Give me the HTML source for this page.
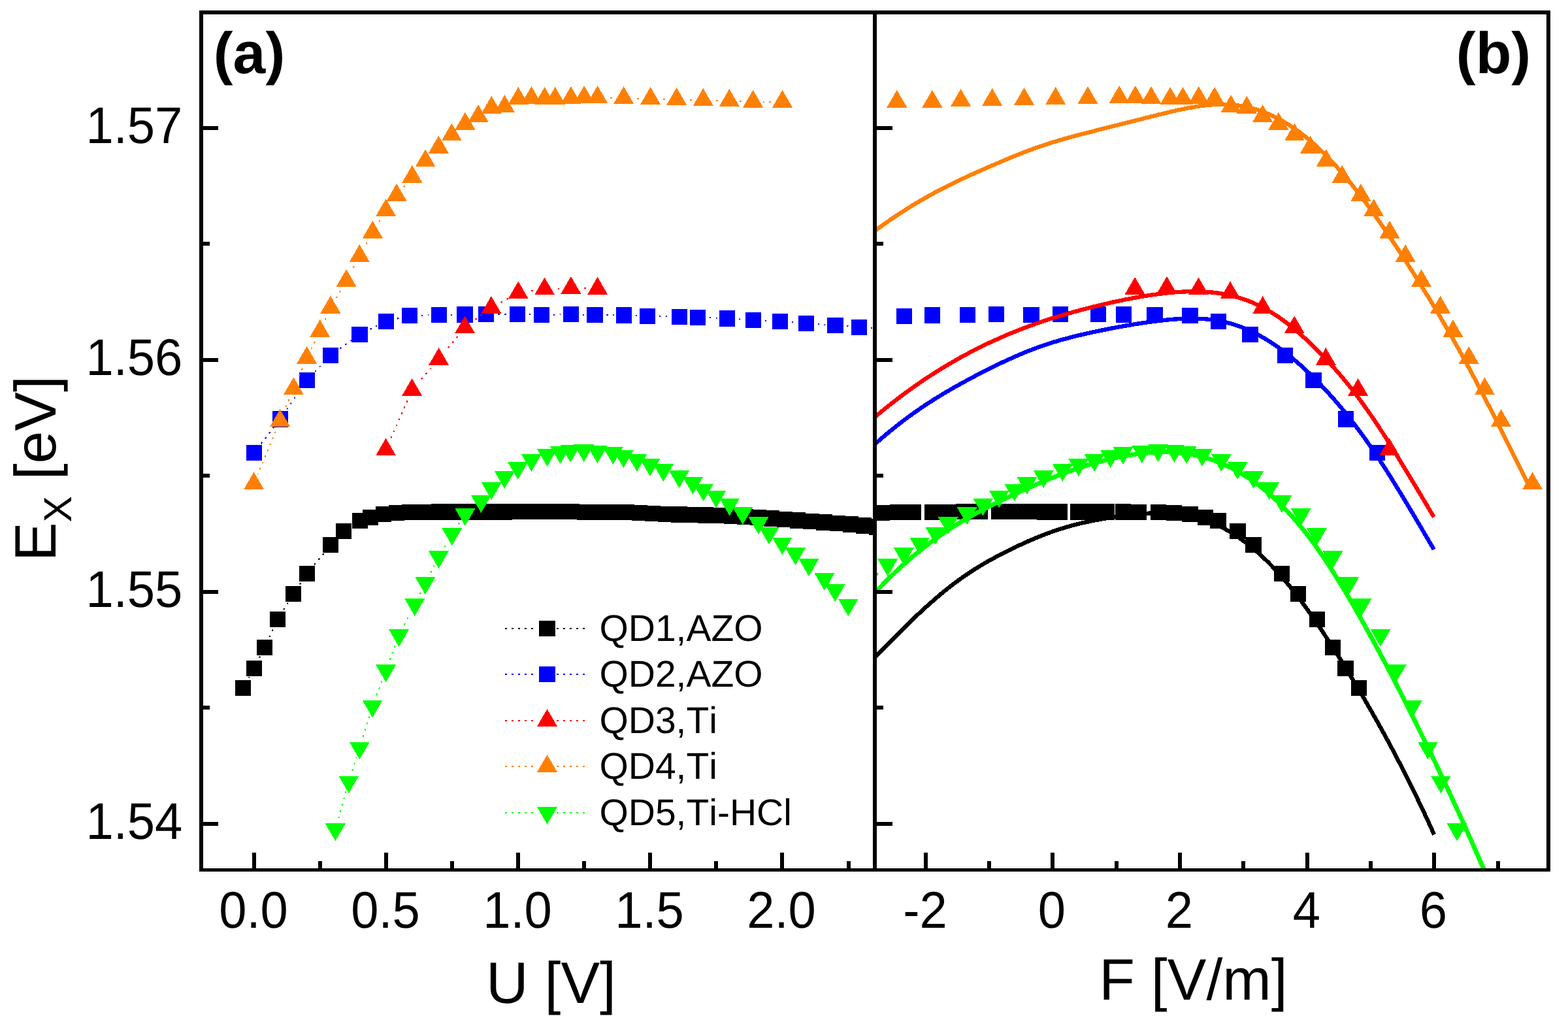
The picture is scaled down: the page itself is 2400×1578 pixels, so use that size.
<!DOCTYPE html>
<html lang="en">
<head>
<meta charset="utf-8">
<title>QD exciton energy vs bias and field</title>
<style>html,body{margin:0;padding:0;background:#fff;}svg{display:block;}</style>
</head>
<body>
<svg xmlns="http://www.w3.org/2000/svg" width="2400" height="1578" viewBox="0 0 2400 1578">
<rect width="2400" height="1578" fill="#ffffff"/>
<defs><clipPath id="cl"><rect x="311" y="22" width="1025" height="1307"/></clipPath><clipPath id="cr"><rect x="1342" y="22" width="1025" height="1307"/></clipPath></defs>
<g clip-path="url(#cl)" shape-rendering="crispEdges">
<path d="M380.6 1037.4L381.3 1036.2M396.9 1007L398.1 1004.7M412.5 974.9L413.6 972.6M416.7 965.8L417.8 963.5M434.2 933L435.6 930.8M439.5 924.5L440.8 922.3M458.9 894.4L460.4 892.3M481.2 864.4L482.9 862.4M487.6 856.7L489.2 854.7M493.9 849L495.6 847" fill="none" stroke="#000000" stroke-width="2"/>
<path d="M359.7 1040.6h24.4v24.4h-24.4zM376.7 1010.6h24.4v24.4h-24.4zM392.9 978.8h24.4v24.4h-24.4zM412.7 935.9h24.4v24.4h-24.4zM436.8 896.9h24.4v24.4h-24.4zM457.8 865.9h24.4v24.4h-24.4zM493.9 822h24.4v24.4h-24.4zM513.9 800.8h24.4v24.4h-24.4zM539 784.8h24.4v24.4h-24.4zM554.9 779.8h24.4v24.4h-24.4zM574.8 774.8h24.4v24.4h-24.4zM594.9 772.7h24.4v24.4h-24.4zM614.9 771.7h24.4v24.4h-24.4zM638.7 771.5h24.4v24.4h-24.4zM659.9 771.3h24.4v24.4h-24.4zM680.7 771.3h24.4v24.4h-24.4zM698.9 771.3h24.4v24.4h-24.4zM717.2 771.3h24.4v24.4h-24.4zM740.5 771.3h24.4v24.4h-24.4zM759.8 771.3h24.4v24.4h-24.4zM779.2 770.9h24.4v24.4h-24.4zM798.6 770.9h24.4v24.4h-24.4zM817.9 770.9h24.4v24.4h-24.4zM842.1 770.9h24.4v24.4h-24.4zM862.4 770.9h24.4v24.4h-24.4zM882.5 771.8h24.4v24.4h-24.4zM902.7 771.9h24.4v24.4h-24.4zM926.8 771.9h24.4v24.4h-24.4zM946.8 772h24.4v24.4h-24.4zM966.7 772.8h24.4v24.4h-24.4zM986.7 773.8h24.4v24.4h-24.4zM1006.9 774.7h24.4v24.4h-24.4zM1027.1 775.3h24.4v24.4h-24.4zM1047.3 775.7h24.4v24.4h-24.4zM1067.5 776.1h24.4v24.4h-24.4zM1087.7 776.9h24.4v24.4h-24.4zM1107.9 777.9h24.4v24.4h-24.4zM1128.1 778.9h24.4v24.4h-24.4zM1148.3 780h24.4v24.4h-24.4zM1168.5 781.3h24.4v24.4h-24.4zM1188.7 782.7h24.4v24.4h-24.4zM1208.9 784.1h24.4v24.4h-24.4zM1229.1 785.6h24.4v24.4h-24.4zM1249.3 787.2h24.4v24.4h-24.4zM1269.5 788.7h24.4v24.4h-24.4zM1289.7 790.4h24.4v24.4h-24.4zM1309.9 792.3h24.4v24.4h-24.4zM1330.1 794.2h24.4v24.4h-24.4zM1350.3 795.8h24.4v24.4h-24.4z" fill="#000000"/>
<path d="M399.7 679.1L401.3 677M405.8 671.2L407.4 669.1M411.9 663.3L413.5 661.2M418.1 655.3L419.5 653.5M438.9 626.7L440.4 624.6M444.6 618.5L446.1 616.3M450.3 610.3L451.8 608.1M456 602L457.4 599.9M482.1 569L483.9 567.1M489 561.7L490.7 559.8M520.3 533.5L522.4 532M528.4 527.7L530.6 526.2M536.6 521.9L538.1 520.8M566.4 504L568.8 502.8M575.4 499.5L577.1 498.7M608.1 487.6L610.6 487M644.9 482.6L647.5 482.5M654.9 482.4L656.5 482.3M689.6 481.7L692.2 481.6M761.9 480.9L764.5 480.9M771.9 480.9L774.5 480.9M809.7 481.4L812.3 481.5M846.9 481.6L849.5 481.5M856.9 481.4L858.5 481.3M891.6 481.5L894.2 481.6M928 482.2L930.6 482.2M938 482.2L939.6 482.3M972.7 483L975.3 483.1M1008.6 484.1L1011.2 484.1M1018.6 484.3L1021.2 484.3M1085.6 486.4L1088.2 486.5M1095.6 486.7L1097.5 486.8M1130.6 488.4L1133.2 488.6M1170.6 490.6L1173.2 490.7M1211.6 493.1L1214.1 493.3M1251.6 496L1254.2 496.2M1261.5 496.7L1262.9 496.8M1295.9 499.2L1298.5 499.5M1332.7 502L1335.3 502.2" fill="none" stroke="#0000ff" stroke-width="2"/>
<path d="M376.7 680.9h24.4v24.4h-24.4zM416.7 629.1h24.4v24.4h-24.4zM457.7 569.6h24.4v24.4h-24.4zM493.7 531.6h24.4v24.4h-24.4zM538.4 499.7h24.4v24.4h-24.4zM578.7 479.6h24.4v24.4h-24.4zM615 470.8h24.4v24.4h-24.4zM659.7 469.8h24.4v24.4h-24.4zM699.4 469.1h24.4v24.4h-24.4zM732 468.7h24.4v24.4h-24.4zM779.8 468.7h24.4v24.4h-24.4zM817 469.8h24.4v24.4h-24.4zM861.7 468.8h24.4v24.4h-24.4zM898.1 469.8h24.4v24.4h-24.4zM942.8 470.2h24.4v24.4h-24.4zM978.7 471.5h24.4v24.4h-24.4zM1027.5 472.5h24.4v24.4h-24.4zM1055.7 473.5h24.4v24.4h-24.4zM1100.7 475.2h24.4v24.4h-24.4zM1140.7 477.5h24.4v24.4h-24.4zM1181.7 479.6h24.4v24.4h-24.4zM1221.7 482.6h24.4v24.4h-24.4zM1266.1 485.6h24.4v24.4h-24.4zM1302.8 488.6h24.4v24.4h-24.4zM1342.8 491.3h24.4v24.4h-24.4z" fill="#0000ff"/>
<path d="M896.9 441.3L894.3 441.3M856.2 441.5L853.6 441.6M816.1 445L813.5 445.4M777.8 456.8L775.5 458.1M769 461.6L766.7 462.9M737.8 481.6L735.7 483.2M729.8 487.6L727.7 489.2M700.4 514.9L698.7 517M694 522.7L692.4 524.7M687.7 530.4L686 532.4M660 563.3L658.3 565.3M653.4 570.8L651.7 572.8M646.8 578.4L645.1 580.3M623.5 613.2L622.5 615.6M619.5 622.3L618.5 624.7M615.5 631.5L614.4 633.9M611.5 640.7L610.4 643M607.5 649.8L606.4 652.2M603.5 659L602.4 661.4M599.4 668.1L598.4 670.5" fill="none" stroke="#ff0000" stroke-width="2"/>
<path d="M590.6 670.5l15.5 26.8h-31zM630.6 579.1l15.5 26.8h-31zM671.6 532.1l15.5 26.8h-31zM711.6 483.4l15.5 26.8h-31zM751.9 453.1l15.5 26.8h-31zM793.3 430.5l15.5 26.8h-31zM833.6 424.5l15.5 26.8h-31zM873.9 422.9l15.5 26.8h-31zM914.6 423.9l15.5 26.8h-31z" fill="#ff0000"/>
<path d="M1179.9 155.7L1177.3 155.7M1169.9 155.7L1168 155.7M1134.9 154.8L1132.3 154.7M1098.6 153.5L1096 153.5M1058.6 152.5L1056 152.5M1017.9 151.5L1015.3 151.5M977.9 150.5L975.3 150.5M936.9 149.5L934.3 149.5M619.5 284.2L617.8 286.2M581.5 337.2L580.1 339.5M561.8 371.2L560.6 373.4M542 407.6L540.8 409.9M521.1 445.2L519.7 447.4M515.9 453.8L514.6 456M498.7 486.8L497.6 489.2M481.9 522.9L480.7 525.2M477.5 531.8L476.4 534M462.7 564.1L461.6 566.5M458.7 573.3L457.7 575.7M442.5 611.5L441.4 613.9M438.5 620.7L437.5 623.1M421.8 660.4L420.8 662.8M418 669.6L417 672M414.1 678.9L413.1 681.3M410.3 688.1L409.3 690.5M406.4 697.3L405.4 699.7M402.6 706.6L401.6 709M398.7 715.8L397.7 718.2M394.9 725L394.5 725.9" fill="none" stroke="#ff8000" stroke-width="2"/>
<path d="M388.6 722.3l15.5 26.8h-31zM428.6 626.2l15.5 26.8h-31zM449.4 577.4l15.5 26.8h-31zM469.6 530l15.5 26.8h-31zM489.7 489.1l15.5 26.8h-31zM505.9 452.8l15.5 26.8h-31zM530.1 412.1l15.5 26.8h-31zM550.3 374.1l15.5 26.8h-31zM570.4 337.8l15.5 26.8h-31zM590.6 304.2l15.5 26.8h-31zM607.1 281l15.5 26.8h-31zM630.9 252.8l15.5 26.8h-31zM651.1 228.6l15.5 26.8h-31zM671.3 207.7l15.5 26.8h-31zM691.4 188.6l15.5 26.8h-31zM711.9 171.8l15.5 26.8h-31zM732.1 160l15.5 26.8h-31zM752.3 146.9l15.5 26.8h-31zM772.4 145.2l15.5 26.8h-31zM793.3 133.1l15.5 26.8h-31zM813.4 132.1l15.5 26.8h-31zM833.6 133.1l15.5 26.8h-31zM849.7 133.1l15.5 26.8h-31zM873.9 132.1l15.5 26.8h-31zM894.1 131.1l15.5 26.8h-31zM914.6 131.1l15.5 26.8h-31zM954.6 132.1l15.5 26.8h-31zM995.6 133.1l15.5 26.8h-31zM1035.6 134.1l15.5 26.8h-31zM1076.3 135.1l15.5 26.8h-31zM1116.3 136.1l15.5 26.8h-31zM1152.6 137.8l15.5 26.8h-31zM1197.6 137.8l15.5 26.8h-31z" fill="#ff8000"/>
<path d="M518.1 1252.3L518.8 1249.8M520.8 1242.7L521.5 1240.2M523.5 1233L524.2 1230.5M526.2 1223.4L526.9 1220.9M528.9 1213.8L529.6 1211.3M539.2 1179.6L540 1177.1M542.2 1170L543 1167.6M545.2 1160.5L545.6 1159.3M555.5 1127.7L556.3 1125.2M558.5 1118.2L559.2 1115.7M561.4 1108.6L562.2 1106.1M564.4 1099.1L565.1 1096.6M576.4 1063.9L577.3 1061.5M579.9 1054.5L580.8 1052.1M583.5 1045.2L584.4 1042.7M596.7 1009.7L597.6 1007.3M600.2 1000.3L601.1 997.9M603.7 991L604.6 988.5M618.7 956.4L619.9 954.1M623.3 947.5L624.5 945.2M642.6 909.2L643.7 906.9M659 876.4L660.2 874.1M663.6 867.5L664.4 865.9M680.3 836.9L681.6 834.7M701.6 802.5L703.1 800.4" fill="none" stroke="#00ff00" stroke-width="2"/>
<path d="M497.8 1260.4h31l-15.5 26.8zM518.3 1187.5h31l-15.5 26.8zM534.8 1135.7h31l-15.5 26.8zM554.6 1071.5h31l-15.5 26.8zM575.1 1017.4h31l-15.5 26.8zM595.1 963.2h31l-15.5 26.8zM619.3 916.2h31l-15.5 26.8zM635.4 883.2h31l-15.5 26.8zM655.9 843.3h31l-15.5 26.8zM676.3 808.3h31l-15.5 26.8zM696.4 778.2h31l-15.5 26.8zM720.8 758.2h31l-15.5 26.8zM736.8 738.2h31l-15.5 26.8zM756.8 721.2h31l-15.5 26.8zM777.1 707.2h31l-15.5 26.8zM797.9 695.1h31l-15.5 26.8zM822 687.2h31l-15.5 26.8zM842.1 683.2h31l-15.5 26.8zM857.6 681h31l-15.5 26.8zM878.3 680.3h31l-15.5 26.8zM898.8 682.2h31l-15.5 26.8zM922.8 684.2h31l-15.5 26.8zM938.8 689.2h31l-15.5 26.8zM959.3 695.1h31l-15.5 26.8zM979.5 702.2h31l-15.5 26.8zM999.8 710.3h31l-15.5 26.8zM1024 720.2h31l-15.5 26.8zM1045 730h31l-15.5 26.8zM1061.1 740.5h31l-15.5 26.8zM1080.6 750.5h31l-15.5 26.8zM1101.1 762.6h31l-15.5 26.8zM1121.3 776.4h31l-15.5 26.8zM1145.5 791.2h31l-15.5 26.8zM1161.6 806.7h31l-15.5 26.8zM1181.8 822.5h31l-15.5 26.8zM1202 838.3h31l-15.5 26.8zM1222.5 855.3h31l-15.5 26.8zM1246.5 877.3h31l-15.5 26.8zM1262.7 894.3h31l-15.5 26.8zM1282.8 916.5h31l-15.5 26.8z" fill="#00ff00"/>
</g>
<g clip-path="url(#cr)" shape-rendering="crispEdges">
<path d="M2067.7 1040.6h24.4v24.4h-24.4zM2047.3 1010.6h24.4v24.4h-24.4zM2027.8 978.8h24.4v24.4h-24.4zM2004 935.9h24.4v24.4h-24.4zM1975 896.9h24.4v24.4h-24.4zM1949.8 865.9h24.4v24.4h-24.4zM1906.4 822h24.4v24.4h-24.4zM1882.3 800.8h24.4v24.4h-24.4zM1852.1 784.8h24.4v24.4h-24.4zM1833 779.8h24.4v24.4h-24.4zM1809.1 774.8h24.4v24.4h-24.4zM1784.9 772.7h24.4v24.4h-24.4zM1760.9 771.7h24.4v24.4h-24.4zM1730.8 771.5h24.4v24.4h-24.4zM1706.8 771.3h24.4v24.4h-24.4zM1681.8 771.3h24.4v24.4h-24.4zM1659.8 771.3h24.4v24.4h-24.4zM1637.8 771.3h24.4v24.4h-24.4zM1609.8 771.3h24.4v24.4h-24.4zM1586.6 771.3h24.4v24.4h-24.4zM1563.3 770.9h24.4v24.4h-24.4zM1540 770.9h24.4v24.4h-24.4zM1516.8 770.9h24.4v24.4h-24.4zM1487.6 770.9h24.4v24.4h-24.4zM1463.3 770.9h24.4v24.4h-24.4zM1439.1 771.8h24.4v24.4h-24.4zM1414.8 771.9h24.4v24.4h-24.4zM1385.8 771.9h24.4v24.4h-24.4zM1361.8 772h24.4v24.4h-24.4zM1337.8 772.8h24.4v24.4h-24.4zM1313.8 773.8h24.4v24.4h-24.4z" fill="#000000"/>
<path d="M2095.7 680.9h24.4v24.4h-24.4zM2047.6 629.1h24.4v24.4h-24.4zM1998.3 569.6h24.4v24.4h-24.4zM1955 531.6h24.4v24.4h-24.4zM1901.3 499.7h24.4v24.4h-24.4zM1852.8 479.6h24.4v24.4h-24.4zM1809.1 470.8h24.4v24.4h-24.4zM1755.4 469.8h24.4v24.4h-24.4zM1707.7 469.1h24.4v24.4h-24.4zM1668.5 468.7h24.4v24.4h-24.4zM1611 468.7h24.4v24.4h-24.4zM1566.2 469.8h24.4v24.4h-24.4zM1512.5 468.8h24.4v24.4h-24.4zM1468.7 469.8h24.4v24.4h-24.4zM1415 470.2h24.4v24.4h-24.4zM1371.8 471.5h24.4v24.4h-24.4zM1313.1 472.5h24.4v24.4h-24.4zM1279.2 473.5h24.4v24.4h-24.4zM1225.1 475.2h24.4v24.4h-24.4zM1177 477.5h24.4v24.4h-24.4zM1127.7 479.6h24.4v24.4h-24.4zM1079.6 482.6h24.4v24.4h-24.4zM1026.2 485.6h24.4v24.4h-24.4zM982.1 488.6h24.4v24.4h-24.4zM934 491.3h24.4v24.4h-24.4z" fill="#0000ff"/>
<path d="M2126.7 670.5l15.5 26.8h-31zM2078.6 579.1l15.5 26.8h-31zM2029.3 532.1l15.5 26.8h-31zM1981.2 483.4l15.5 26.8h-31zM1932.7 453.1l15.5 26.8h-31zM1883 430.5l15.5 26.8h-31zM1834.5 424.5l15.5 26.8h-31zM1786 422.9l15.5 26.8h-31zM1737.1 423.9l15.5 26.8h-31z" fill="#ff0000"/>
<path d="M2345.6 722.3l15.5 26.8h-31zM2297.5 626.2l15.5 26.8h-31zM2272.5 577.4l15.5 26.8h-31zM2248.2 530l15.5 26.8h-31zM2224 489.1l15.5 26.8h-31zM2204.6 452.8l15.5 26.8h-31zM2175.5 412.1l15.5 26.8h-31zM2151.2 374.1l15.5 26.8h-31zM2127 337.8l15.5 26.8h-31zM2102.7 304.2l15.5 26.8h-31zM2082.9 281l15.5 26.8h-31zM2054.3 252.8l15.5 26.8h-31zM2030 228.6l15.5 26.8h-31zM2005.7 207.7l15.5 26.8h-31zM1981.5 188.6l15.5 26.8h-31zM1956.9 171.8l15.5 26.8h-31zM1932.6 160l15.5 26.8h-31zM1908.3 146.9l15.5 26.8h-31zM1884.1 145.2l15.5 26.8h-31zM1859 133.1l15.5 26.8h-31zM1834.8 132.1l15.5 26.8h-31zM1810.5 133.1l15.5 26.8h-31zM1791.1 133.1l15.5 26.8h-31zM1762 132.1l15.5 26.8h-31zM1737.8 131.1l15.5 26.8h-31zM1713.1 131.1l15.5 26.8h-31zM1665 132.1l15.5 26.8h-31zM1615.7 133.1l15.5 26.8h-31zM1567.6 134.1l15.5 26.8h-31zM1518.7 135.1l15.5 26.8h-31zM1470.6 136.1l15.5 26.8h-31zM1426.9 137.8l15.5 26.8h-31zM1372.8 137.8l15.5 26.8h-31z" fill="#ff8000"/>
<path d="M2214.6 1260.4h31l-15.5 26.8zM2189.9 1187.5h31l-15.5 26.8zM2170.1 1135.7h31l-15.5 26.8zM2146.2 1071.5h31l-15.5 26.8zM2121.6 1017.4h31l-15.5 26.8zM2097.5 963.2h31l-15.5 26.8zM2068.4 916.2h31l-15.5 26.8zM2049.1 883.2h31l-15.5 26.8zM2024.4 843.3h31l-15.5 26.8zM1999.9 808.3h31l-15.5 26.8zM1975.7 778.2h31l-15.5 26.8zM1946.4 758.2h31l-15.5 26.8zM1927.2 738.2h31l-15.5 26.8zM1903.1 721.2h31l-15.5 26.8zM1878.7 707.2h31l-15.5 26.8zM1853.7 695.1h31l-15.5 26.8zM1824.7 687.2h31l-15.5 26.8zM1800.5 683.2h31l-15.5 26.8zM1781.9 681h31l-15.5 26.8zM1757 680.3h31l-15.5 26.8zM1732.3 682.2h31l-15.5 26.8zM1703.5 684.2h31l-15.5 26.8zM1684.2 689.2h31l-15.5 26.8zM1659.6 695.1h31l-15.5 26.8zM1635.3 702.2h31l-15.5 26.8zM1610.9 710.3h31l-15.5 26.8zM1581.8 720.2h31l-15.5 26.8zM1556.5 730h31l-15.5 26.8zM1537.2 740.5h31l-15.5 26.8zM1513.7 750.5h31l-15.5 26.8zM1489.1 762.6h31l-15.5 26.8zM1464.8 776.4h31l-15.5 26.8zM1435.7 791.2h31l-15.5 26.8zM1416.3 806.7h31l-15.5 26.8zM1392 822.5h31l-15.5 26.8zM1367.8 838.3h31l-15.5 26.8zM1343.1 855.3h31l-15.5 26.8zM1314.2 877.3h31l-15.5 26.8zM1294.8 894.3h31l-15.5 26.8zM1270.6 916.5h31l-15.5 26.8z" fill="#00ff00"/>
<path d="M1336 1009.2L1338.5 1006.6L1341 1004.1L1343.5 1001.5L1346 998.9L1348.5 996.4L1351 993.8L1353.5 991.3L1356 988.8L1358.5 986.2L1361 983.7L1363.5 981.2L1366 978.6L1368.5 976.1L1371 973.6L1373.5 971.1L1376 968.6L1378.5 966.1L1381 963.7L1383.5 961.2L1386 958.7L1388.5 956.3L1391 953.9L1393.5 951.4L1396 949L1398.5 946.6L1401 944.3L1403.5 941.9L1406 939.5L1408.5 937.2L1411 934.9L1413.5 932.6L1416 930.3L1418.5 928L1421 925.8L1423.5 923.6L1426 921.4L1428.5 919.2L1431 917L1433.5 914.8L1436 912.7L1438.5 910.6L1441 908.5L1443.5 906.5L1446 904.4L1448.5 902.4L1451 900.4L1453.5 898.4L1456 896.5L1458.5 894.6L1461 892.7L1463.5 890.8L1466 889L1468.5 887.2L1471 885.4L1473.5 883.6L1476 881.9L1478.5 880.1L1481 878.5L1483.5 876.8L1486 875.1L1488.5 873.5L1491 871.9L1493.5 870.3L1496 868.8L1498.5 867.2L1501 865.7L1503.5 864.2L1506 862.7L1508.5 861.3L1511 859.8L1513.5 858.4L1516 857L1518.5 855.6L1521 854.3L1523.5 852.9L1526 851.6L1528.5 850.2L1531 848.9L1533.5 847.6L1536 846.4L1538.5 845.1L1541 843.8L1543.5 842.6L1546 841.4L1548.5 840.2L1551 838.9L1553.5 837.7L1556 836.6L1558.5 835.4L1561 834.2L1563.5 833.1L1566 831.9L1568.5 830.8L1571 829.7L1573.5 828.5L1576 827.5L1578.5 826.4L1581 825.3L1583.5 824.2L1586 823.2L1588.5 822.2L1591 821.2L1593.5 820.2L1596 819.2L1598.5 818.2L1601 817.3L1603.5 816.3L1606 815.4L1608.5 814.5L1611 813.6L1613.5 812.8L1616 811.9L1618.5 811.1L1621 810.3L1623.5 809.5L1626 808.7L1628.5 807.9L1631 807.1L1633.5 806.4L1636 805.7L1638.5 805L1641 804.3L1643.5 803.7L1646 803L1648.5 802.4L1651 801.8L1653.5 801.2L1656 800.6L1658.5 800L1661 799.4L1663.5 798.9L1666 798.4L1668.5 797.8L1671 797.3L1673.5 796.8L1676 796.4L1678.5 795.9L1681 795.4L1683.5 795L1686 794.5L1688.5 794.1L1691 793.7L1693.5 793.2L1696 792.8L1698.5 792.4L1701 792.1L1703.5 791.7L1706 791.3L1708.5 790.9L1711 790.6L1713.5 790.2L1716 789.9L1718.5 789.6L1721 789.3L1723.5 788.9L1726 788.6L1728.5 788.3L1731 788L1733.5 787.8L1736 787.5L1738.5 787.2L1741 787L1743.5 786.7L1746 786.5L1748.5 786.3L1751 786.1L1753.5 785.9L1756 785.8L1758.5 785.6L1761 785.5L1763.5 785.3L1766 785.2L1768.5 785.2L1771 785.1L1773.5 785L1776 785L1778.5 785L1781 785L1783.5 785.1L1786 785.2L1788.5 785.2L1791 785.4L1793.5 785.5L1796 785.7L1798.5 785.9L1801 786.1L1803.5 786.4L1806 786.7L1808.5 787L1811 787.4L1813.5 787.8L1816 788.2L1818.5 788.7L1821 789.2L1823.5 789.7L1826 790.3L1828.5 790.9L1831 791.6L1833.5 792.3L1836 793L1838.5 793.8L1841 794.6L1843.5 795.4L1846 796.3L1848.5 797.3L1851 798.2L1853.5 799.3L1856 800.3L1858.5 801.4L1861 802.5L1863.5 803.7L1866 804.9L1868.5 806.2L1871 807.5L1873.5 808.9L1876 810.2L1878.5 811.7L1881 813.1L1883.5 814.6L1886 816.2L1888.5 817.8L1891 819.4L1893.5 821L1896 822.7L1898.5 824.5L1901 826.3L1903.5 828.1L1906 829.9L1908.5 831.8L1911 833.8L1913.5 835.8L1916 837.8L1918.5 839.9L1921 842L1923.5 844.1L1926 846.3L1928.5 848.6L1931 850.8L1933.5 853.2L1936 855.6L1938.5 858L1941 860.4L1943.5 863L1946 865.5L1948.5 868.1L1951 870.8L1953.5 873.5L1956 876.2L1958.5 879L1961 881.9L1963.5 884.7L1966 887.6L1968.5 890.6L1971 893.6L1973.5 896.7L1976 899.8L1978.5 902.9L1981 906.1L1983.5 909.3L1986 912.5L1988.5 915.8L1991 919.2L1993.5 922.6L1996 926L1998.5 929.4L2001 932.9L2003.5 936.4L2006 940L2008.5 943.5L2011 947.1L2013.5 950.8L2016 954.4L2018.5 958.1L2021 961.9L2023.5 965.6L2026 969.4L2028.5 973.2L2031 977L2033.5 980.8L2036 984.7L2038.5 988.5L2041 992.4L2043.5 996.4L2046 1000.3L2048.5 1004.3L2051 1008.2L2053.5 1012.2L2056 1016.3L2058.5 1020.3L2061 1024.4L2063.5 1028.5L2066 1032.6L2068.5 1036.7L2071 1040.8L2073.5 1045L2076 1049.1L2078.5 1053.3L2081 1057.6L2083.5 1061.8L2086 1066L2088.5 1070.3L2091 1074.6L2093.5 1078.9L2096 1083.3L2098.5 1087.6L2101 1092L2103.5 1096.4L2106 1100.8L2108.5 1105.3L2111 1109.8L2113.5 1114.3L2116 1118.8L2118.5 1123.3L2121 1127.9L2123.5 1132.5L2126 1137.2L2128.5 1141.8L2131 1146.5L2133.5 1151.2L2136 1155.9L2138.5 1160.7L2141 1165.5L2143.5 1170.3L2146 1175.2L2148.5 1180.1L2151 1185L2153.5 1189.9L2156 1194.9L2158.5 1199.9L2161 1205L2163.5 1210L2166 1215.1L2168.5 1220.3L2171 1225.5L2173.5 1230.7L2176 1235.9L2178.5 1241.2L2181 1246.5L2183.5 1251.9L2186 1257.3L2188.5 1262.7L2191 1268.2L2193.5 1273.7L2195.2 1277.5" fill="none" stroke="#000000" stroke-width="6.3" stroke-linejoin="round"/>
<path d="M1336 682.6L1338.5 680.3L1341 678.1L1343.5 675.9L1346 673.7L1348.5 671.6L1351 669.4L1353.5 667.3L1356 665.2L1358.5 663.1L1361 661L1363.5 659L1366 657L1368.5 655L1371 653L1373.5 651L1376 649.1L1378.5 647.1L1381 645.2L1383.5 643.3L1386 641.4L1388.5 639.6L1391 637.7L1393.5 635.9L1396 634.1L1398.5 632.3L1401 630.6L1403.5 628.8L1406 627.1L1408.5 625.3L1411 623.6L1413.5 622L1416 620.3L1418.5 618.6L1421 617L1423.5 615.4L1426 613.8L1428.5 612.2L1431 610.6L1433.5 609L1436 607.5L1438.5 606L1441 604.4L1443.5 602.9L1446 601.4L1448.5 599.9L1451 598.5L1453.5 597L1456 595.6L1458.5 594.1L1461 592.7L1463.5 591.3L1466 589.9L1468.5 588.5L1471 587.1L1473.5 585.7L1476 584.4L1478.5 583L1481 581.7L1483.5 580.3L1486 579L1488.5 577.7L1491 576.3L1493.5 575L1496 573.7L1498.5 572.4L1501 571.1L1503.5 569.9L1506 568.6L1508.5 567.3L1511 566L1513.5 564.8L1516 563.5L1518.5 562.3L1521 561.1L1523.5 559.8L1526 558.6L1528.5 557.4L1531 556.2L1533.5 555L1536 553.8L1538.5 552.7L1541 551.5L1543.5 550.4L1546 549.2L1548.5 548.1L1551 547L1553.5 545.9L1556 544.8L1558.5 543.7L1561 542.6L1563.5 541.6L1566 540.5L1568.5 539.5L1571 538.5L1573.5 537.5L1576 536.5L1578.5 535.6L1581 534.6L1583.5 533.7L1586 532.7L1588.5 531.8L1591 530.9L1593.5 530L1596 529.2L1598.5 528.3L1601 527.5L1603.5 526.6L1606 525.8L1608.5 525L1611 524.3L1613.5 523.5L1616 522.7L1618.5 522L1621 521.3L1623.5 520.5L1626 519.8L1628.5 519.1L1631 518.4L1633.5 517.8L1636 517.1L1638.5 516.5L1641 515.8L1643.5 515.2L1646 514.6L1648.5 513.9L1651 513.3L1653.5 512.7L1656 512.2L1658.5 511.6L1661 511L1663.5 510.4L1666 509.9L1668.5 509.3L1671 508.8L1673.5 508.2L1676 507.7L1678.5 507.2L1681 506.7L1683.5 506.1L1686 505.6L1688.5 505.1L1691 504.6L1693.5 504.1L1696 503.6L1698.5 503.1L1701 502.6L1703.5 502.2L1706 501.7L1708.5 501.2L1711 500.8L1713.5 500.3L1716 499.9L1718.5 499.4L1721 499L1723.5 498.5L1726 498.1L1728.5 497.7L1731 497.2L1733.5 496.8L1736 496.4L1738.5 496L1741 495.6L1743.5 495.2L1746 494.8L1748.5 494.4L1751 494L1753.5 493.7L1756 493.3L1758.5 493L1761 492.6L1763.5 492.3L1766 491.9L1768.5 491.6L1771 491.3L1773.5 491L1776 490.7L1778.5 490.4L1781 490.1L1783.5 489.9L1786 489.6L1788.5 489.4L1791 489.1L1793.5 488.9L1796 488.7L1798.5 488.5L1801 488.4L1803.5 488.2L1806 488L1808.5 487.9L1811 487.8L1813.5 487.7L1816 487.6L1818.5 487.6L1821 487.5L1823.5 487.5L1826 487.5L1828.5 487.5L1831 487.6L1833.5 487.7L1836 487.8L1838.5 487.9L1841 488L1843.5 488.2L1846 488.4L1848.5 488.6L1851 488.9L1853.5 489.2L1856 489.5L1858.5 489.8L1861 490.2L1863.5 490.6L1866 491L1868.5 491.5L1871 492L1873.5 492.6L1876 493.2L1878.5 493.8L1881 494.4L1883.5 495.1L1886 495.8L1888.5 496.6L1891 497.4L1893.5 498.2L1896 499.1L1898.5 500L1901 501L1903.5 501.9L1906 503L1908.5 504L1911 505.1L1913.5 506.3L1916 507.5L1918.5 508.7L1921 509.9L1923.5 511.2L1926 512.6L1928.5 513.9L1931 515.3L1933.5 516.8L1936 518.2L1938.5 519.7L1941 521.3L1943.5 522.9L1946 524.5L1948.5 526.1L1951 527.8L1953.5 529.5L1956 531.3L1958.5 533.1L1961 534.9L1963.5 536.8L1966 538.6L1968.5 540.6L1971 542.5L1973.5 544.5L1976 546.5L1978.5 548.6L1981 550.7L1983.5 552.8L1986 554.9L1988.5 557.1L1991 559.3L1993.5 561.6L1996 563.9L1998.5 566.2L2001 568.5L2003.5 570.9L2006 573.3L2008.5 575.8L2011 578.2L2013.5 580.7L2016 583.2L2018.5 585.8L2021 588.4L2023.5 591L2026 593.7L2028.5 596.3L2031 599.1L2033.5 601.8L2036 604.6L2038.5 607.4L2041 610.2L2043.5 613.1L2046 616L2048.5 618.9L2051 621.9L2053.5 624.9L2056 627.9L2058.5 630.9L2061 634L2063.5 637.2L2066 640.3L2068.5 643.5L2071 646.7L2073.5 650L2076 653.3L2078.5 656.6L2081 660L2083.5 663.4L2086 666.8L2088.5 670.2L2091 673.7L2093.5 677.3L2096 680.8L2098.5 684.4L2101 688.1L2103.5 691.7L2106 695.4L2108.5 699.2L2111 702.9L2113.5 706.8L2116 710.6L2118.5 714.5L2121 718.4L2123.5 722.3L2126 726.2L2128.5 730.2L2131 734.2L2133.5 738.3L2136 742.3L2138.5 746.4L2141 750.5L2143.5 754.6L2146 758.7L2148.5 762.8L2151 767L2153.5 771.2L2156 775.3L2158.5 779.5L2161 783.7L2163.5 787.9L2166 792.1L2168.5 796.4L2171 800.6L2173.5 804.8L2176 809.1L2178.5 813.3L2181 817.6L2183.5 821.8L2186 826.1L2188.5 830.4L2191 834.6L2193.5 838.9L2194.8 841.1" fill="none" stroke="#0000ff" stroke-width="6.3" stroke-linejoin="round"/>
<path d="M1336 641.1L1338.5 638.9L1341 636.8L1343.5 634.7L1346 632.6L1348.5 630.5L1351 628.5L1353.5 626.4L1356 624.4L1358.5 622.4L1361 620.4L1363.5 618.4L1366 616.5L1368.5 614.5L1371 612.6L1373.5 610.7L1376 608.8L1378.5 606.9L1381 605L1383.5 603.1L1386 601.3L1388.5 599.5L1391 597.6L1393.5 595.8L1396 594.1L1398.5 592.3L1401 590.5L1403.5 588.8L1406 587.1L1408.5 585.3L1411 583.6L1413.5 581.9L1416 580.3L1418.5 578.6L1421 577L1423.5 575.3L1426 573.7L1428.5 572.1L1431 570.5L1433.5 568.9L1436 567.3L1438.5 565.8L1441 564.2L1443.5 562.7L1446 561.2L1448.5 559.7L1451 558.2L1453.5 556.7L1456 555.3L1458.5 553.8L1461 552.4L1463.5 550.9L1466 549.5L1468.5 548.1L1471 546.7L1473.5 545.4L1476 544L1478.5 542.7L1481 541.3L1483.5 540L1486 538.7L1488.5 537.4L1491 536.1L1493.5 534.8L1496 533.5L1498.5 532.3L1501 531.1L1503.5 529.8L1506 528.6L1508.5 527.4L1511 526.2L1513.5 525L1516 523.8L1518.5 522.7L1521 521.5L1523.5 520.4L1526 519.3L1528.5 518.1L1531 517L1533.5 515.9L1536 514.9L1538.5 513.8L1541 512.7L1543.5 511.7L1546 510.6L1548.5 509.6L1551 508.6L1553.5 507.6L1556 506.6L1558.5 505.6L1561 504.6L1563.5 503.6L1566 502.7L1568.5 501.7L1571 500.8L1573.5 499.8L1576 498.9L1578.5 498L1581 497.1L1583.5 496.2L1586 495.3L1588.5 494.5L1591 493.6L1593.5 492.7L1596 491.9L1598.5 491.1L1601 490.2L1603.5 489.4L1606 488.6L1608.5 487.8L1611 487L1613.5 486.2L1616 485.5L1618.5 484.7L1621 483.9L1623.5 483.2L1626 482.4L1628.5 481.7L1631 481L1633.5 480.2L1636 479.5L1638.5 478.8L1641 478.1L1643.5 477.4L1646 476.7L1648.5 476L1651 475.4L1653.5 474.7L1656 474L1658.5 473.4L1661 472.7L1663.5 472.1L1666 471.4L1668.5 470.8L1671 470.2L1673.5 469.5L1676 468.9L1678.5 468.3L1681 467.7L1683.5 467.1L1686 466.5L1688.5 465.9L1691 465.3L1693.5 464.8L1696 464.2L1698.5 463.6L1701 463.1L1703.5 462.5L1706 462L1708.5 461.4L1711 460.9L1713.5 460.4L1716 459.9L1718.5 459.3L1721 458.8L1723.5 458.3L1726 457.8L1728.5 457.4L1731 456.9L1733.5 456.4L1736 455.9L1738.5 455.5L1741 455L1743.5 454.6L1746 454.2L1748.5 453.7L1751 453.3L1753.5 452.9L1756 452.5L1758.5 452.1L1761 451.7L1763.5 451.4L1766 451L1768.5 450.7L1771 450.3L1773.5 450L1776 449.7L1778.5 449.4L1781 449.1L1783.5 448.8L1786 448.5L1788.5 448.2L1791 448L1793.5 447.8L1796 447.5L1798.5 447.3L1801 447.1L1803.5 447L1806 446.8L1808.5 446.7L1811 446.5L1813.5 446.4L1816 446.3L1818.5 446.3L1821 446.2L1823.5 446.2L1826 446.2L1828.5 446.2L1831 446.2L1833.5 446.2L1836 446.3L1838.5 446.4L1841 446.5L1843.5 446.6L1846 446.8L1848.5 446.9L1851 447.1L1853.5 447.4L1856 447.6L1858.5 447.9L1861 448.2L1863.5 448.5L1866 448.9L1868.5 449.3L1871 449.7L1873.5 450.1L1876 450.6L1878.5 451.1L1881 451.6L1883.5 452.2L1886 452.8L1888.5 453.4L1891 454.1L1893.5 454.8L1896 455.5L1898.5 456.3L1901 457.1L1903.5 457.9L1906 458.8L1908.5 459.7L1911 460.6L1913.5 461.6L1916 462.7L1918.5 463.7L1921 464.8L1923.5 466L1926 467.1L1928.5 468.4L1931 469.6L1933.5 470.9L1936 472.3L1938.5 473.7L1941 475.1L1943.5 476.6L1946 478.1L1948.5 479.7L1951 481.3L1953.5 482.9L1956 484.6L1958.5 486.3L1961 488.1L1963.5 489.9L1966 491.7L1968.5 493.6L1971 495.5L1973.5 497.5L1976 499.4L1978.5 501.5L1981 503.5L1983.5 505.6L1986 507.7L1988.5 509.9L1991 512.1L1993.5 514.3L1996 516.6L1998.5 518.8L2001 521.2L2003.5 523.5L2006 525.9L2008.5 528.3L2011 530.7L2013.5 533.2L2016 535.7L2018.5 538.2L2021 540.8L2023.5 543.3L2026 545.9L2028.5 548.6L2031 551.2L2033.5 553.9L2036 556.6L2038.5 559.3L2041 562.1L2043.5 564.9L2046 567.7L2048.5 570.6L2051 573.5L2053.5 576.5L2056 579.4L2058.5 582.4L2061 585.5L2063.5 588.6L2066 591.7L2068.5 594.8L2071 598L2073.5 601.3L2076 604.5L2078.5 607.9L2081 611.2L2083.5 614.6L2086 618L2088.5 621.5L2091 625L2093.5 628.6L2096 632.1L2098.5 635.7L2101 639.4L2103.5 643.1L2106 646.8L2108.5 650.6L2111 654.4L2113.5 658.2L2116 662L2118.5 665.9L2121 669.8L2123.5 673.8L2126 677.8L2128.5 681.8L2131 685.8L2133.5 689.8L2136 693.9L2138.5 697.9L2141 702L2143.5 706.1L2146 710.2L2148.5 714.4L2151 718.5L2153.5 722.6L2156 726.8L2158.5 730.9L2161 735.1L2163.5 739.2L2166 743.4L2168.5 747.6L2171 751.7L2173.5 755.9L2176 760.1L2178.5 764.3L2181 768.4L2183.5 772.6L2186 776.8L2188.5 781L2191 785.2L2193.5 789.3L2194.8 791.5" fill="none" stroke="#ff0000" stroke-width="6.3" stroke-linejoin="round"/>
<path d="M1336 355.5L1338.5 353.7L1341 351.8L1343.5 350L1346 348.2L1348.5 346.4L1351 344.6L1353.5 342.9L1356 341.1L1358.5 339.4L1361 337.6L1363.5 335.9L1366 334.2L1368.5 332.5L1371 330.9L1373.5 329.2L1376 327.5L1378.5 325.9L1381 324.3L1383.5 322.7L1386 321.1L1388.5 319.5L1391 318L1393.5 316.4L1396 314.9L1398.5 313.3L1401 311.8L1403.5 310.3L1406 308.8L1408.5 307.4L1411 305.9L1413.5 304.5L1416 303L1418.5 301.6L1421 300.2L1423.5 298.8L1426 297.5L1428.5 296.1L1431 294.7L1433.5 293.4L1436 292.1L1438.5 290.8L1441 289.5L1443.5 288.2L1446 286.9L1448.5 285.6L1451 284.3L1453.5 283.1L1456 281.9L1458.5 280.6L1461 279.4L1463.5 278.2L1466 277L1468.5 275.8L1471 274.6L1473.5 273.5L1476 272.3L1478.5 271.1L1481 270L1483.5 268.8L1486 267.7L1488.5 266.6L1491 265.5L1493.5 264.3L1496 263.2L1498.5 262.1L1501 261L1503.5 259.9L1506 258.8L1508.5 257.7L1511 256.6L1513.5 255.5L1516 254.4L1518.5 253.4L1521 252.3L1523.5 251.2L1526 250.1L1528.5 249.1L1531 248L1533.5 246.9L1536 245.9L1538.5 244.8L1541 243.8L1543.5 242.7L1546 241.7L1548.5 240.7L1551 239.7L1553.5 238.6L1556 237.6L1558.5 236.6L1561 235.6L1563.5 234.7L1566 233.7L1568.5 232.7L1571 231.8L1573.5 230.8L1576 229.9L1578.5 229L1581 228L1583.5 227.1L1586 226.2L1588.5 225.3L1591 224.5L1593.5 223.6L1596 222.8L1598.5 221.9L1601 221.1L1603.5 220.3L1606 219.5L1608.5 218.7L1611 217.9L1613.5 217.1L1616 216.4L1618.5 215.6L1621 214.9L1623.5 214.2L1626 213.4L1628.5 212.7L1631 212L1633.5 211.3L1636 210.6L1638.5 209.9L1641 209.3L1643.5 208.6L1646 207.9L1648.5 207.2L1651 206.6L1653.5 205.9L1656 205.3L1658.5 204.6L1661 204L1663.5 203.3L1666 202.7L1668.5 202L1671 201.4L1673.5 200.8L1676 200.1L1678.5 199.5L1681 198.9L1683.5 198.2L1686 197.6L1688.5 197L1691 196.3L1693.5 195.7L1696 195.1L1698.5 194.4L1701 193.8L1703.5 193.2L1706 192.5L1708.5 191.9L1711 191.3L1713.5 190.6L1716 190L1718.5 189.4L1721 188.7L1723.5 188.1L1726 187.5L1728.5 186.8L1731 186.2L1733.5 185.6L1736 184.9L1738.5 184.3L1741 183.7L1743.5 183L1746 182.4L1748.5 181.8L1751 181.1L1753.5 180.5L1756 179.9L1758.5 179.3L1761 178.6L1763.5 178L1766 177.4L1768.5 176.8L1771 176.1L1773.5 175.5L1776 174.9L1778.5 174.3L1781 173.7L1783.5 173.1L1786 172.5L1788.5 171.9L1791 171.3L1793.5 170.7L1796 170.1L1798.5 169.6L1801 169L1803.5 168.5L1806 167.9L1808.5 167.4L1811 166.9L1813.5 166.4L1816 165.9L1818.5 165.4L1821 164.9L1823.5 164.5L1826 164L1828.5 163.6L1831 163.2L1833.5 162.8L1836 162.5L1838.5 162.1L1841 161.8L1843.5 161.5L1846 161.2L1848.5 161L1851 160.7L1853.5 160.5L1856 160.3L1858.5 160.2L1861 160.1L1863.5 160L1866 159.9L1868.5 159.9L1871 159.9L1873.5 159.9L1876 159.9L1878.5 160L1881 160.1L1883.5 160.3L1886 160.5L1888.5 160.7L1891 161L1893.5 161.3L1896 161.6L1898.5 162L1901 162.4L1903.5 162.8L1906 163.3L1908.5 163.8L1911 164.4L1913.5 165L1916 165.6L1918.5 166.3L1921 167L1923.5 167.8L1926 168.6L1928.5 169.4L1931 170.3L1933.5 171.2L1936 172.1L1938.5 173.1L1941 174.2L1943.5 175.3L1946 176.4L1948.5 177.5L1951 178.8L1953.5 180L1956 181.3L1958.5 182.6L1961 184L1963.5 185.4L1966 186.9L1968.5 188.4L1971 189.9L1973.5 191.5L1976 193.1L1978.5 194.8L1981 196.5L1983.5 198.3L1986 200.1L1988.5 201.9L1991 203.8L1993.5 205.7L1996 207.7L1998.5 209.7L2001 211.7L2003.5 213.8L2006 215.9L2008.5 218.1L2011 220.3L2013.5 222.6L2016 224.9L2018.5 227.2L2021 229.6L2023.5 232L2026 234.4L2028.5 236.9L2031 239.5L2033.5 242L2036 244.6L2038.5 247.3L2041 250L2043.5 252.7L2046 255.4L2048.5 258.2L2051 261.1L2053.5 263.9L2056 266.8L2058.5 269.8L2061 272.8L2063.5 275.8L2066 278.8L2068.5 281.9L2071 285L2073.5 288.1L2076 291.3L2078.5 294.5L2081 297.8L2083.5 301L2086 304.3L2088.5 307.7L2091 311L2093.5 314.4L2096 317.8L2098.5 321.3L2101 324.7L2103.5 328.2L2106 331.7L2108.5 335.3L2111 338.9L2113.5 342.4L2116 346.1L2118.5 349.7L2121 353.3L2123.5 357L2126 360.7L2128.5 364.4L2131 368.2L2133.5 371.9L2136 375.7L2138.5 379.5L2141 383.3L2143.5 387.1L2146 391L2148.5 394.8L2151 398.7L2153.5 402.6L2156 406.5L2158.5 410.4L2161 414.3L2163.5 418.3L2166 422.2L2168.5 426.2L2171 430.2L2173.5 434.2L2176 438.2L2178.5 442.3L2181 446.3L2183.5 450.4L2186 454.4L2188.5 458.5L2191 462.7L2193.5 466.8L2196 471L2198.5 475.1L2201 479.3L2203.5 483.5L2206 487.8L2208.5 492.1L2211 496.3L2213.5 500.7L2216 505L2218.5 509.3L2221 513.7L2223.5 518.1L2226 522.6L2228.5 527L2231 531.5L2233.5 536L2236 540.5L2238.5 545L2241 549.6L2243.5 554.2L2246 558.8L2248.5 563.4L2251 568.1L2253.5 572.7L2256 577.4L2258.5 582.1L2261 586.9L2263.5 591.6L2266 596.4L2268.5 601.2L2271 606L2273.5 610.8L2276 615.6L2278.5 620.5L2281 625.3L2283.5 630.2L2286 635.1L2288.5 640L2291 644.9L2293.5 649.8L2296 654.8L2298.5 659.7L2301 664.7L2303.5 669.7L2306 674.7L2308.5 679.6L2311 684.6L2313.5 689.6L2316 694.7L2318.5 699.7L2321 704.7L2323.5 709.7L2326 714.8L2328.5 719.8L2331 724.8L2333.5 729.9L2336 734.9L2338.5 740L2340 743" fill="none" stroke="#ff8000" stroke-width="6.3" stroke-linejoin="round"/>
<path d="M1336 910.9L1338.5 908.2L1341 905.4L1343.5 902.8L1346 900.1L1348.5 897.5L1351 894.9L1353.5 892.3L1356 889.8L1358.5 887.2L1361 884.8L1363.5 882.3L1366 879.9L1368.5 877.5L1371 875.1L1373.5 872.7L1376 870.4L1378.5 868.1L1381 865.8L1383.5 863.5L1386 861.3L1388.5 859.1L1391 856.9L1393.5 854.8L1396 852.6L1398.5 850.5L1401 848.5L1403.5 846.4L1406 844.4L1408.5 842.3L1411 840.4L1413.5 838.4L1416 836.4L1418.5 834.5L1421 832.6L1423.5 830.7L1426 828.9L1428.5 827L1431 825.2L1433.5 823.4L1436 821.6L1438.5 819.9L1441 818.1L1443.5 816.4L1446 814.7L1448.5 813L1451 811.4L1453.5 809.7L1456 808.1L1458.5 806.5L1461 804.9L1463.5 803.4L1466 801.8L1468.5 800.3L1471 798.8L1473.5 797.3L1476 795.8L1478.5 794.4L1481 792.9L1483.5 791.5L1486 790.1L1488.5 788.7L1491 787.3L1493.5 786L1496 784.6L1498.5 783.3L1501 782L1503.5 780.6L1506 779.3L1508.5 778L1511 776.8L1513.5 775.5L1516 774.2L1518.5 773L1521 771.7L1523.5 770.5L1526 769.3L1528.5 768L1531 766.8L1533.5 765.6L1536 764.4L1538.5 763.2L1541 762L1543.5 760.9L1546 759.7L1548.5 758.5L1551 757.3L1553.5 756.2L1556 755L1558.5 753.9L1561 752.7L1563.5 751.6L1566 750.4L1568.5 749.3L1571 748.2L1573.5 747.1L1576 745.9L1578.5 744.8L1581 743.7L1583.5 742.6L1586 741.5L1588.5 740.5L1591 739.4L1593.5 738.3L1596 737.2L1598.5 736.2L1601 735.1L1603.5 734.1L1606 733.1L1608.5 732.1L1611 731.1L1613.5 730.1L1616 729.1L1618.5 728.1L1621 727.1L1623.5 726.2L1626 725.2L1628.5 724.3L1631 723.3L1633.5 722.4L1636 721.5L1638.5 720.6L1641 719.7L1643.5 718.9L1646 718L1648.5 717.2L1651 716.3L1653.5 715.5L1656 714.7L1658.5 713.9L1661 713.1L1663.5 712.3L1666 711.6L1668.5 710.8L1671 710.1L1673.5 709.3L1676 708.6L1678.5 707.9L1681 707.2L1683.5 706.6L1686 705.9L1688.5 705.2L1691 704.6L1693.5 704L1696 703.4L1698.5 702.7L1701 702.2L1703.5 701.6L1706 701L1708.5 700.5L1711 699.9L1713.5 699.4L1716 698.9L1718.5 698.4L1721 698L1723.5 697.5L1726 697L1728.5 696.6L1731 696.2L1733.5 695.8L1736 695.4L1738.5 695.1L1741 694.7L1743.5 694.4L1746 694.1L1748.5 693.8L1751 693.5L1753.5 693.3L1756 693.1L1758.5 692.8L1761 692.6L1763.5 692.5L1766 692.3L1768.5 692.2L1771 692.1L1773.5 692L1776 691.9L1778.5 691.9L1781 691.9L1783.5 691.9L1786 691.9L1788.5 692L1791 692L1793.5 692.1L1796 692.3L1798.5 692.4L1801 692.6L1803.5 692.8L1806 693L1808.5 693.3L1811 693.6L1813.5 693.9L1816 694.3L1818.5 694.6L1821 695L1823.5 695.5L1826 695.9L1828.5 696.4L1831 697L1833.5 697.5L1836 698.1L1838.5 698.7L1841 699.4L1843.5 700.1L1846 700.8L1848.5 701.5L1851 702.3L1853.5 703.1L1856 704L1858.5 704.8L1861 705.8L1863.5 706.7L1866 707.7L1868.5 708.7L1871 709.8L1873.5 710.9L1876 712L1878.5 713.2L1881 714.4L1883.5 715.6L1886 716.9L1888.5 718.2L1891 719.5L1893.5 720.9L1896 722.3L1898.5 723.8L1901 725.3L1903.5 726.8L1906 728.4L1908.5 730L1911 731.6L1913.5 733.3L1916 735L1918.5 736.8L1921 738.6L1923.5 740.4L1926 742.3L1928.5 744.2L1931 746.1L1933.5 748.1L1936 750.1L1938.5 752.2L1941 754.3L1943.5 756.5L1946 758.7L1948.5 760.9L1951 763.2L1953.5 765.6L1956 767.9L1958.5 770.4L1961 772.8L1963.5 775.3L1966 777.9L1968.5 780.5L1971 783.1L1973.5 785.8L1976 788.6L1978.5 791.4L1981 794.2L1983.5 797.1L1986 800L1988.5 803L1991 806L1993.5 809.1L1996 812.2L1998.5 815.4L2001 818.6L2003.5 821.9L2006 825.2L2008.5 828.6L2011 832L2013.5 835.4L2016 838.9L2018.5 842.5L2021 846.1L2023.5 849.7L2026 853.4L2028.5 857.1L2031 860.9L2033.5 864.7L2036 868.5L2038.5 872.4L2041 876.3L2043.5 880.2L2046 884.2L2048.5 888.2L2051 892.3L2053.5 896.4L2056 900.5L2058.5 904.6L2061 908.8L2063.5 913L2066 917.3L2068.5 921.5L2071 925.8L2073.5 930.2L2076 934.5L2078.5 938.9L2081 943.3L2083.5 947.7L2086 952.1L2088.5 956.6L2091 961.1L2093.5 965.6L2096 970.1L2098.5 974.7L2101 979.3L2103.5 983.8L2106 988.4L2108.5 993.1L2111 997.7L2113.5 1002.4L2116 1007L2118.5 1011.7L2121 1016.5L2123.5 1021.2L2126 1025.9L2128.5 1030.7L2131 1035.5L2133.5 1040.3L2136 1045.1L2138.5 1049.9L2141 1054.8L2143.5 1059.6L2146 1064.5L2148.5 1069.4L2151 1074.3L2153.5 1079.2L2156 1084.2L2158.5 1089.1L2161 1094.1L2163.5 1099.1L2166 1104.1L2168.5 1109.2L2171 1114.2L2173.5 1119.3L2176 1124.3L2178.5 1129.4L2181 1134.5L2183.5 1139.7L2186 1144.8L2188.5 1150L2191 1155.1L2193.5 1160.3L2196 1165.5L2198.5 1170.8L2201 1176L2203.5 1181.3L2206 1186.6L2208.5 1191.8L2211 1197.2L2213.5 1202.5L2216 1207.8L2218.5 1213.2L2221 1218.6L2223.5 1224L2226 1229.4L2228.5 1234.9L2231 1240.3L2233.5 1245.8L2236 1251.3L2238.5 1256.8L2241 1262.3L2243.5 1267.9L2246 1273.4L2248.5 1279L2251 1284.6L2253.5 1290.3L2256 1295.9L2258.5 1301.6L2261 1307.3L2263.5 1313L2266 1318.7L2268.5 1324.5L2271 1330.3L2273.5 1336.1L2275 1339.6" fill="none" stroke="#00ff00" stroke-width="6.9" stroke-linejoin="round"/>
</g>
<g shape-rendering="crispEdges">
<path d="M773 962L816.5 962" fill="none" stroke="#000000" stroke-width="2" stroke-dasharray="2.5 7.5"/>
<path d="M852 962L895.5 962" fill="none" stroke="#000000" stroke-width="2" stroke-dasharray="2.5 7.5"/>
<path d="M825.3 949.8h24.4v24.4h-24.4z" fill="#000000"/>
<path d="M773 1032L816.5 1032" fill="none" stroke="#0000ff" stroke-width="2" stroke-dasharray="2.5 7.5"/>
<path d="M852 1032L895.5 1032" fill="none" stroke="#0000ff" stroke-width="2" stroke-dasharray="2.5 7.5"/>
<path d="M825.3 1019.8h24.4v24.4h-24.4z" fill="#0000ff"/>
<path d="M773 1103L816.5 1103" fill="none" stroke="#ff0000" stroke-width="2" stroke-dasharray="2.5 7.5"/>
<path d="M852 1103L895.5 1103" fill="none" stroke="#ff0000" stroke-width="2" stroke-dasharray="2.5 7.5"/>
<path d="M837.5 1085.1l15.5 26.8h-31z" fill="#ff0000"/>
<path d="M773 1173L816.5 1173" fill="none" stroke="#ff8000" stroke-width="2" stroke-dasharray="2.5 7.5"/>
<path d="M852 1173L895.5 1173" fill="none" stroke="#ff8000" stroke-width="2" stroke-dasharray="2.5 7.5"/>
<path d="M837.5 1155.1l15.5 26.8h-31z" fill="#ff8000"/>
<path d="M773 1244L816.5 1244" fill="none" stroke="#00ff00" stroke-width="2" stroke-dasharray="2.5 7.5"/>
<path d="M852 1244L895.5 1244" fill="none" stroke="#00ff00" stroke-width="2" stroke-dasharray="2.5 7.5"/>
<path d="M822 1235.1h31l-15.5 26.8z" fill="#00ff00"/>
</g>
<path d="M305 16H311V1334H305zM2367 16H2373V1334H2367zM1336 16H1342V1334H1336zM305 16H2373V22H305zM305 1329H2373V1334H305zM311 193H334V199H311zM1342 193H1366V199H1342zM311 548H334V554H311zM1342 548H1366V554H1342zM311 903H334V909H311zM1342 903H1366V909H1342zM311 1258H334V1264H311zM1342 1258H1366V1264H1342zM311 370H321V376H311zM1342 370H1352V376H1342zM311 725H321V731H311zM1342 725H1352V731H1342zM311 1080H321V1086H311zM1342 1080H1352V1086H1342zM386 1305H392V1329H386zM588 1305H594V1329H588zM790 1305H796V1329H790zM992 1305H998V1329H992zM1194 1305H1200V1329H1194zM1414 1305H1420V1329H1414zM1608 1305H1614V1329H1608zM1803 1305H1809V1329H1803zM1998 1305H2004V1329H1998zM2192 1305H2198V1329H2192zM487 1318H493V1329H487zM689 1318H695V1329H689zM891 1318H897V1329H891zM1093 1318H1099V1329H1093zM1296 1318H1302V1329H1296zM1511 1318H1517V1329H1511zM1706 1318H1712V1329H1706zM1900 1318H1906V1329H1900zM2095 1318H2101V1329H2095zM2290 1318H2296V1329H2290z" fill="#000" shape-rendering="crispEdges"/>
<g font-family="'Liberation Sans', Arial, Helvetica, sans-serif" fill="#000" style="font-kerning:none" text-rendering="geometricPrecision">
<text transform="translate(279.3 218.8) scale(1 1.04)" font-size="76" text-anchor="end">1.57</text>
<text transform="translate(279.3 573.8) scale(1 1.04)" font-size="76" text-anchor="end">1.56</text>
<text transform="translate(279.3 928.8) scale(1 1.04)" font-size="76" text-anchor="end">1.55</text>
<text transform="translate(279.3 1283.8) scale(1 1.04)" font-size="76" text-anchor="end">1.54</text>
<text transform="translate(388 1419.8) scale(1 1.04)" font-size="76" text-anchor="middle">0.0</text>
<text transform="translate(590 1419.8) scale(1 1.04)" font-size="76" text-anchor="middle">0.5</text>
<text transform="translate(792 1419.8) scale(1 1.04)" font-size="76" text-anchor="middle">1.0</text>
<text transform="translate(994 1419.8) scale(1 1.04)" font-size="76" text-anchor="middle">1.5</text>
<text transform="translate(1196 1419.8) scale(1 1.04)" font-size="76" text-anchor="middle">2.0</text>
<text transform="translate(1416 1419.8) scale(1 1.04)" font-size="76" text-anchor="middle">-2</text>
<text transform="translate(1610 1419.8) scale(1 1.04)" font-size="76" text-anchor="middle">0</text>
<text transform="translate(1805 1419.8) scale(1 1.04)" font-size="76" text-anchor="middle">2</text>
<text transform="translate(2000 1419.8) scale(1 1.04)" font-size="76" text-anchor="middle">4</text>
<text transform="translate(2194 1419.8) scale(1 1.04)" font-size="76" text-anchor="middle">6</text>
<text transform="translate(843.5 1534.8)" font-size="89.5" text-anchor="middle">U [V]</text>
<text transform="translate(1826.5 1530)" font-size="89.5" text-anchor="middle">F [V/m]</text>
<text transform="translate(85 717) rotate(-90)" font-size="89.5" text-anchor="middle">E<tspan font-size="60" dy="24">X</tspan><tspan dy="-24"> [eV]</tspan></text>
<text transform="translate(381.5 112)" font-size="89.5" text-anchor="middle" font-weight="bold">(a)</text>
<text transform="translate(2286 112)" font-size="89.5" text-anchor="middle" font-weight="bold">(b)</text>
<text transform="translate(917.4 980.6)" font-size="57">QD1,AZO</text>
<text transform="translate(917.4 1050.6)" font-size="57">QD2,AZO</text>
<text transform="translate(917.4 1121.6)" font-size="57">QD3,Ti</text>
<text transform="translate(917.4 1191.6)" font-size="57">QD4,Ti</text>
<text transform="translate(917.4 1262.6)" font-size="57">QD5,Ti-HCl</text>
</g>
</svg>
</body>
</html>
